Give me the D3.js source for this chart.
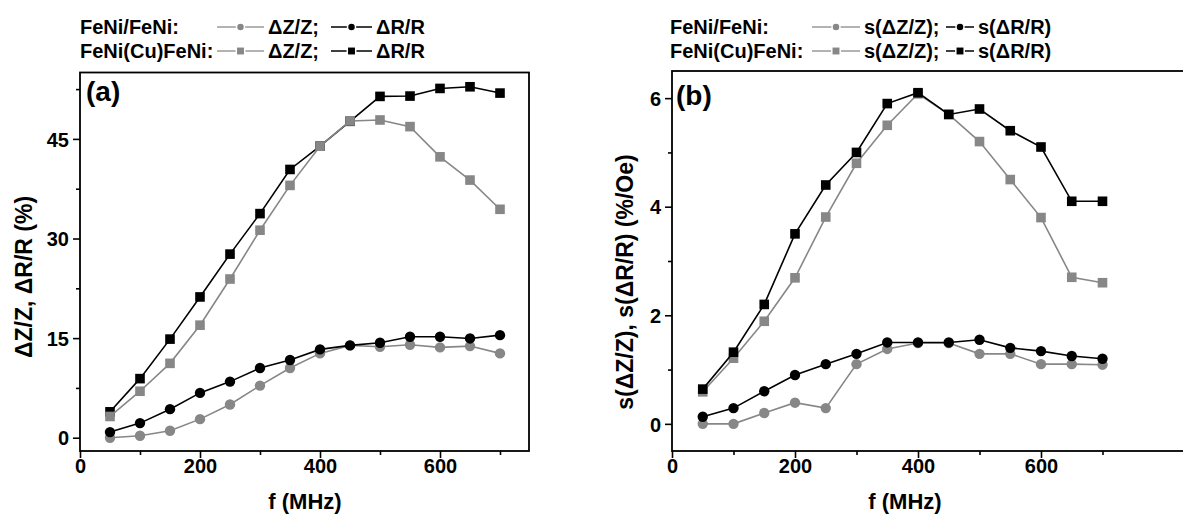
<!DOCTYPE html>
<html><head><meta charset="utf-8">
<script src="https://cdn.jsdelivr.net/npm/d3@7"></script>
<style>
body{margin:0;background:#fff}
text{font-family:"Liberation Sans",Arial,sans-serif;font-weight:bold;fill:#000}
</style>
</head><body><svg id="c" width="1183" height="515"></svg>
<script>
// ---- data ----
const freq = [50,100,150,200,250,300,350,400,450,500,550,600,650,700];
const dZ_FeNi = [0,0.3,1.05,2.8,5.0,7.85,10.5,12.7,13.9,13.7,14.0,13.6,13.8,12.7];
const dR_FeNi = [0.85,2.2,4.3,6.75,8.45,10.5,11.7,13.3,13.9,14.3,15.2,15.2,14.95,15.45];
const dZ_Cu   = [3.2,7.0,11.2,16.95,23.9,31.25,38.0,43.9,47.7,47.85,46.85,42.3,38.8,34.4];
const dR_Cu   = [3.9,8.9,14.85,21.2,27.65,33.75,40.4,43.9,47.65,51.4,51.45,52.6,52.85,51.9];
const sZ_FeNi = [0,0,0.2,0.39,0.29,1.1,1.38,1.49,1.49,1.29,1.29,1.1,1.1,1.09];
const sR_FeNi = [0.13,0.29,0.6,0.9,1.1,1.29,1.5,1.5,1.5,1.55,1.4,1.34,1.25,1.2];
const sZ_Cu   = [0.59,1.21,1.89,2.69,3.81,4.8,5.5,6.08,5.7,5.2,4.5,3.8,2.7,2.6];
const sR_Cu   = [0.64,1.32,2.2,3.5,4.4,5.0,5.9,6.1,5.7,5.8,5.4,5.1,4.1,4.1];
const xTicksMajor = [0,200,400,600];
const xTicksMinor = [100,300,500,700];
const yTicksA = [0,15,30,45];
const yTicksMinorA = [7.5,22.5,37.5,52.5];
const yTicksB = [0,2,4,6];
const yTicksMinorB = [1,3,5];
const legendGroups = ["FeNi/FeNi:", "FeNi(Cu)FeNi:"];
const legendA = ["\u0394Z/Z;", "\u0394R/R"];
const legendB = ["s(\u0394Z/Z);", "s(\u0394R/R)"];
const xTitle = "f (MHz)";
const yTitleA = "\u0394Z/Z, \u0394R/R (%)";
const yTitleB = "s(\u0394Z/Z), s(\u0394R/R) (%/Oe)";

const GRAY = "#878787", BLACK = "#000";
const svg = d3.select("#c");

function panel(cfg){
  const x = d3.scaleLinear().domain(cfg.xDom).range([cfg.left, cfg.right]);
  const y = d3.scaleLinear().domain(cfg.yDom).range([cfg.bottom, cfg.top]);
  const g = svg.append("g");
  // minor ticks
  g.append("g").attr("transform",`translate(0,${cfg.bottom})`)
    .call(d3.axisBottom(x).tickValues(xTicksMinor).tickSize(4).tickFormat(""))
    .call(a=>a.select(".domain").remove());
  g.append("g").attr("transform",`translate(${cfg.left},0)`)
    .call(d3.axisLeft(y).tickValues(cfg.yMinor).tickSize(4).tickFormat(""))
    .call(a=>a.select(".domain").remove());
  // major ticks
  const xa = g.append("g").attr("transform",`translate(0,${cfg.bottom})`)
    .call(d3.axisBottom(x).tickValues(xTicksMajor).tickSize(7).tickFormat(d3.format("d")))
    .call(a=>a.select(".domain").remove());
  xa.selectAll("text").attr("dy",null).attr("y",21.5).style("font-size","20px");
  const ya = g.append("g").attr("transform",`translate(${cfg.left},0)`)
    .call(d3.axisLeft(y).tickValues(cfg.yTicks).tickSize(7).tickPadding(4).tickFormat(d3.format("d")))
    .call(a=>a.select(".domain").remove());
  ya.selectAll("text").style("font-size","20px").attr("dy","0.36em");
  g.selectAll(".tick line").attr("stroke","#000").attr("stroke-width",1.6);
  // frame
  g.append("rect").attr("x",cfg.left).attr("y",cfg.top)
    .attr("width",cfg.right-cfg.left).attr("height",cfg.bottom-cfg.top)
    .attr("fill","none").attr("stroke","#000").attr("stroke-width",1.8);
  // series
  const line = d3.line().x((d,i)=>x(freq[i])).y(d=>y(d));
  cfg.series.forEach(s=>{
    g.append("path").attr("d",line(s.vals)).attr("fill","none")
      .attr("stroke",s.color).attr("stroke-width",1.6);
    if(s.shape==="circle"){
      g.selectAll(null).data(s.vals).join("circle")
        .attr("cx",(d,i)=>x(freq[i])).attr("cy",d=>y(d)).attr("r",5.2).attr("fill",s.color);
    } else {
      g.selectAll(null).data(s.vals).join("rect")
        .attr("x",(d,i)=>x(freq[i])-4.8).attr("y",d=>y(d)-4.8)
        .attr("width",9.6).attr("height",9.6).attr("fill",s.color);
    }
  });
  // panel label
  g.append("text").attr("x",cfg.labX).attr("y",cfg.labY).style("font-size","28px").text(cfg.label);
  // axis titles
  g.append("text").attr("x",cfg.titleX).attr("y",509)
    .attr("text-anchor","middle").style("font-size","22px").text(xTitle);
  g.append("text").attr("transform",`translate(${cfg.yTitleX},${cfg.yTitleY}) rotate(-90)`)
    .attr("text-anchor","middle").attr("dy","0.35em").style("font-size","23px").text(cfg.yTitle);
  // legend
  const L = cfg.leg;
  [0,1].forEach(r=>{
    const by = L.rows[r];
    g.append("text").attr("x",L.x0).attr("y",by).style("font-size","20px").text(legendGroups[r]);
    [0,1].forEach(k=>{
      const sx = L.sym[k];
      g.append("line").attr("x1",sx[0]).attr("x2",sx[1]).attr("y1",by-7).attr("y2",by-7)
        .attr("stroke", k===0?"#9a9a9a":BLACK).attr("stroke-width",1.5);
      if(r===0){
        g.append("circle").attr("cx",(sx[0]+sx[1])/2).attr("cy",by-7).attr("r",4)
          .attr("fill",k===0?GRAY:BLACK).attr("stroke","#fff").attr("stroke-width",1.5);
      } else {
        g.append("rect").attr("x",(sx[0]+sx[1])/2-4.2).attr("y",by-11.2).attr("width",8.4).attr("height",8.4)
          .attr("fill",k===0?GRAY:BLACK).attr("stroke","#fff").attr("stroke-width",1.5);
      }
      g.append("text").attr("x",L.txt[k]).attr("y",by).style("font-size","20px").text(cfg.legText[k]);
    });
  });
}

panel({left:80,right:529,top:72.5,bottom:451,xDom:[0,(529-80)/0.6],yDom:[-2,55],
  yTicks:yTicksA,yMinor:yTicksMinorA,label:"(a)",labX:86,labY:101,titleX:305,
  yTitle:yTitleA,yTitleX:24,yTitleY:277,legText:legendA,
  leg:{x0:80,rows:[34,58],sym:[[217,264],[331,372]],txt:[268,376]},
  series:[
    {vals:dZ_FeNi,color:GRAY,shape:"circle"},
    {vals:dR_FeNi,color:BLACK,shape:"circle"},
    {vals:dR_Cu,color:BLACK,shape:"square"},
    {vals:dZ_Cu,color:GRAY,shape:"square"}]});

panel({left:672,right:1190,top:71,bottom:451,xDom:[0,(1190-672)/0.615],yDom:[-0.5,6.5],
  yTicks:yTicksB,yMinor:yTicksMinorB,label:"(b)",labX:676,labY:105,titleX:905,
  yTitle:yTitleB,yTitleX:625,yTitleY:282,legText:legendB,
  leg:{x0:670,rows:[34,58],sym:[[812,860],[946,974]],txt:[864,978]},
  series:[
    {vals:sZ_FeNi,color:GRAY,shape:"circle"},
    {vals:sR_FeNi,color:BLACK,shape:"circle"},
    {vals:sZ_Cu,color:GRAY,shape:"square"},
    {vals:sR_Cu,color:BLACK,shape:"square"}]});
</script>
</body></html>
